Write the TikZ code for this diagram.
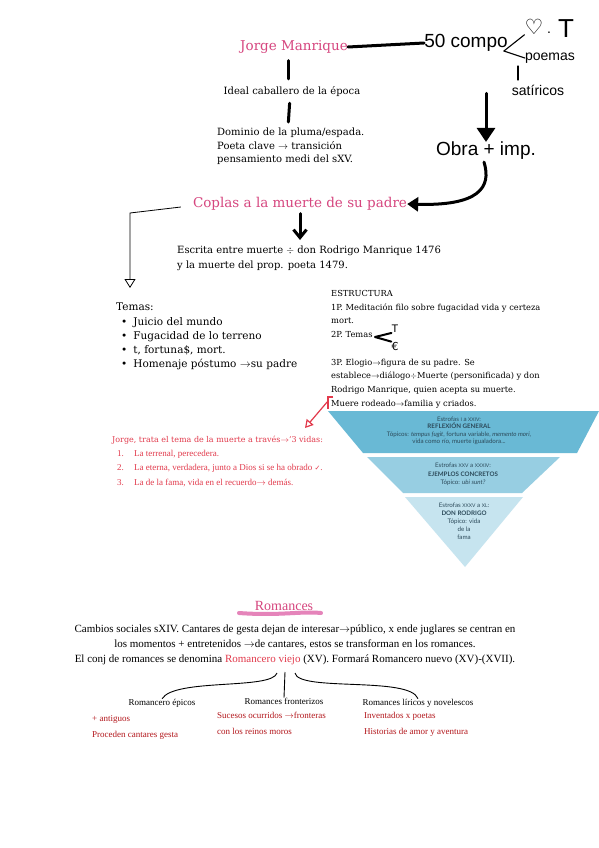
\documentclass[tikz,border=0pt]{standalone}
\usepackage{fontspec}
\usepackage{xcolor}
\usepackage{amsmath, amssymb}
\usepackage{tikz}
\usetikzlibrary{arrows.meta}

\setmainfont{DejaVu Serif}
\newfontfamily\timesfont{Liberation Serif}
\newfontfamily\handfont{Liberation Sans}
\newfontfamily\pyrfont{Lato}
\newfontfamily\symfont{DejaVu Sans}

\definecolor{titlepink}{HTML}{D6467F}
\definecolor{notered}{HTML}{E23A4C}
\definecolor{darkred}{HTML}{B3171C}
\definecolor{brushpink}{HTML}{E584BA}
\definecolor{bandA}{HTML}{69B9D5}
\definecolor{bandB}{HTML}{97CEE2}
\definecolor{bandC}{HTML}{C6E4EF}
\definecolor{pyrtext}{HTML}{2C4A5A}

\newcommand{\rnum}[1]{{\fontsize{5}{6}\selectfont #1}}

\begin{document}
\begin{tikzpicture}[x=1pt, y=-1pt,
    stroke/.style={line width=3pt, line cap=round, line join=round},
    pen/.style={line width=1.1pt, line cap=round, line join=round},
    heading/.style={inner sep=0pt, text=titlepink, font=\fontsize{13.5}{16}\selectfont},
    typed/.style={inner sep=0pt, align=left, anchor=north west},
    hand/.style={inner sep=0pt, font=\handfont},
    band/.style={inner sep=0pt, align=center, anchor=north, text=pyrtext},
    romance/.style={inner sep=0pt, font=\timesfont\fontsize{9}{16}\selectfont},
    sub/.style={inner sep=0pt, align=left, anchor=north west, text=darkred,
        font=\timesfont\fontsize{9}{16}\selectfont}]

    % page
    \useasboundingbox[fill=white] (0,0) rectangle (599,848);

    % Jorge Manrique and his works
    \node[heading] (jorge) at (294,47) {Jorge Manrique};
    \node[hand, font=\handfont\fontsize{19}{20}\selectfont] (compo) at (466,43) {50 compo};
    \draw[stroke] (jorge.east) -- (compo.west);
    \node[hand, font=\symfont\fontsize{21}{22}\selectfont] (heart) at (534,27) {♡};
    \node[hand, font=\handfont\fontsize{14}{14}\selectfont] (dot) at (549,33) {.};
    \node[hand, font=\handfont\fontsize{26}{26}\selectfont] (tee) at (566,29) {T};
    \node[hand, font=\handfont\fontsize{14}{14}\selectfont] (poemas) at (550,58) {poemas};
    \node[hand, font=\handfont\fontsize{14}{14}\selectfont] (satir) at (538,90) {satíricos};
    \draw[pen] (compo.east) ++(-4,8) -- (heart.south west);
    \draw[pen] (compo.east) ++(-4,8) -- (poemas.west);
    \draw[pen] (518,66) -- (518,80);
    \node[hand, font=\handfont\fontsize{19}{20}\selectfont] (obra) at (486,151) {Obra + imp.};
    \draw[stroke, -{Triangle[width=18pt,length=14pt]}] (satir.south -| obra) ++(0,-2) -- (obra.north);

    % Ideal and dominio
    \node[inner sep=0pt, font=\fontsize{10}{13.5}\selectfont] (ideal) at (292,92) {Ideal caballero de la época};
    \draw[stroke, shorten <=7pt, shorten >=8pt] (jorge.south -| 288,0) -- (ideal.north -| 288,0);
    \node[typed, font=\fontsize{10}{13.5}\selectfont] (dominio) at (217,128) {Dominio de la pluma/espada.\\
        Poeta clave $\rightarrow$ transición\\ pensamiento medi del sXV.};
    \draw[stroke, shorten <=6pt, shorten >=6pt] (ideal.south -| 290,0) -- (dominio.north -| 288,0);

    % Coplas
    \node[heading] (coplas) at (300,204) {Coplas a la muerte de su padre};
    \draw[stroke, -{Triangle[width=14pt,length=11pt]}] (obra.south) ++(-2,2)
        .. controls (492,188) and (478,206) .. (coplas.east);
    \node[typed, font=\fontsize{10}{15}\selectfont] (escrita) at (177,246) {Escrita entre muerte $\div$ don Rodrigo Manrique 1476\\
        y la muerte del prop. poeta 1479.};
    \draw[stroke, shorten >=6pt, -{Straight Barb[width=13pt,length=8pt]}] (coplas.south) ++(0,3) -- (escrita.north -| coplas.south);
    \coordinate (bend) at (130,213);
    \coordinate (temastip) at (130,288);
    \node[typed, font=\fontsize{10.5}{14}\selectfont] (temas) at (116,303) {Temas:\\[1pt]
        \hspace*{5pt}\textbullet\hspace{6pt}Juicio del mundo\\
        \hspace*{5pt}\textbullet\hspace{6pt}Fugacidad de lo terreno\\
        \hspace*{5pt}\textbullet\hspace{6pt}t, fortuna\$, mort.\\
        \hspace*{5pt}\textbullet\hspace{6pt}Homenaje póstumo $\rightarrow$su padre};
    \draw[line width=0.8pt, -{Triangle[open,width=11pt,length=9pt]}] (coplas.west) ++(-12,3) -- (bend) -- (temastip);

    % estructura
    \node[typed, font=\fontsize{8.3}{13.75}\selectfont] (estructura) at (331,290) {ESTRUCTURA\\
        1P. Meditación filo sobre fugacidad vida y certeza\\ mort.\\ 2P. Temas\\ \mbox{}\\
        3P. Elogio$\to$figura de su padre. Se\\
        establece$\to$diálogo$\div$Muerte (personificada) y don\\
        Rodrigo Manrique, quien acepta su muerte.\\
        Muere rodeado$\to$familia y criados.};
    \coordinate (lt) at (375,337);
    \node[hand, font=\handfont\fontsize{11}{11}\selectfont] (ttop) at (395,329) {T};
    \node[hand, font=\symfont\fontsize{11}{11}\selectfont] (tbot) at (395,346) {€};
    \draw[stroke, line width=2pt] (ttop.south west) -- (lt) -- (tbot.north west);

    % red notes
    \node[inner sep=0pt, anchor=west, text=notered, font=\fontsize{8}{10}\selectfont] (tres) at (112,440)
        {Jorge, trata el tema de la muerte a través$\to$'3 vidas:};
    \node[typed, text=notered, font=\timesfont\fontsize{9}{14.5}\selectfont] (vidas) at (117,450)
        {\makebox[17pt][l]{1.}La terrenal, perecedera.\\
        \makebox[17pt][l]{2.}La eterna, verdadera, junto a Dios si se ha obrado {\symfont\fontsize{7}{8}\selectfont ✓}.\\
        \makebox[17pt][l]{3.}La de la fama, vida en el recuerdo$\to$ demás.};
    \coordinate (bracket) at (328,401);
    \coordinate (redtip) at (305,428);
    \draw[notered, line width=1.2pt] (333,397) -- (328,397) -- (328,410) -- (333,410);
    \draw[notered, line width=1.2pt, -{Triangle[open,width=9pt,length=8pt]}] (bracket) -- (redtip);

    % pyramid
    \fill[white] (325,409) rectangle (599,572);
    \fill[bandA] (328,411) -- (599,411) -- (577,453) -- (363,453) -- cycle;
    \fill[bandB] (367,457) -- (560,457) -- (522,493) -- (403,493) -- cycle;
    \fill[bandC] (405,497) -- (523,497) -- (465,567) -- cycle;
    \node[band, font=\pyrfont\fontsize{6.2}{7.2}\selectfont] (reflex) at (459,417)
        {Estrofas \rnum{I} a \rnum{XXIV}:\\ \textbf{REFLEXIÓN GENERAL}\\
        Tópicos: \textit{tempus fugit}, fortuna variable, \textit{memento mori},\\
        vida como río, muerte igualadora...};
    \node[band, font=\pyrfont\fontsize{6.2}{8.4}\selectfont] (ejemplos) at (463,463)
        {Estrofas \rnum{XXV} a \rnum{XXXIV}:\\ \textbf{EJEMPLOS CONCRETOS}\\ Tópico: \textit{ubi sunt?}};
    \node[band, font=\pyrfont\fontsize{6.2}{8}\selectfont] (rodrigo) at (464,503)
        {Estrofas \rnum{XXXV} a \rnum{XL}:\\ \textbf{DON RODRIGO}\\ Tópico: vida\\ de la\\ fama};

    % Romances
    \draw[brushpink, line width=4pt, line cap=round] (239,613) .. controls (280,616) and (300,611) .. (321,613);
    \node[inner sep=0pt, text=titlepink, font=\timesfont\fontsize{14}{16}\selectfont] (romances) at (284,606) {Romances};
    \node[inner sep=0pt, align=center, anchor=north, font=\timesfont\fontsize{11}{15}\selectfont] (cambios) at (295,625)
        {Cambios sociales sXIV. Cantares de gesta dejan de interesar$\to$público, x ende juglares se centran en\\
        los momentos + entretenidos $\to$de cantares, estos se transforman en los romances.\\
        El conj de romances se denomina \textcolor{notered}{Romancero viejo} (XV). Formará Romancero nuevo (XV)-(XVII).};
    \coordinate (root) at (285,672);
    \node[romance] (epicos) at (162,703) {Romancero épicos};
    \node[romance] (fronter) at (284,701) {Romances fronterizos};
    \node[romance] (liricos) at (418,703) {Romances líricos y novelescos};
    \draw[line width=0.9pt] (root) ++(-8,1) .. controls (272,690) and (175,678) .. (epicos.north);
    \draw[line width=0.9pt] (root) -- (fronter.north);
    \draw[line width=0.9pt] (root) ++(10,1) .. controls (298,692) and (410,676) .. (liricos.north);
    \node[sub] (epicosA) at (92,715) {+ antiguos\\ Proceden cantares gesta};
    \node[sub] (fronterA) at (217,712) {Sucesos ocurridos $\to$fronteras\\ con los reinos moros};
    \node[sub] (liricosA) at (364,712) {Inventados x poetas\\ Historias de amor y aventura};
\end{tikzpicture}
\end{document}
